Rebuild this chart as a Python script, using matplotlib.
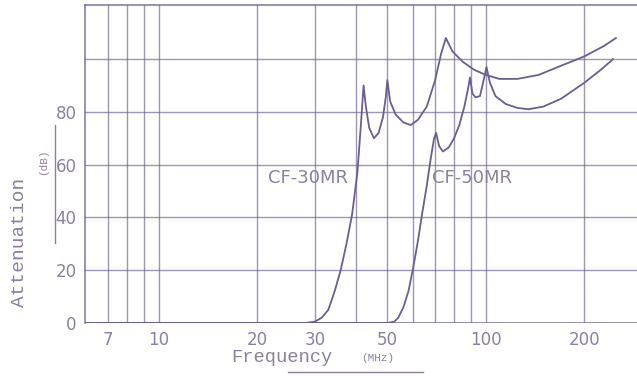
import numpy as np
import matplotlib
matplotlib.use("Agg")
import matplotlib.pyplot as plt

# frequency (MHz) / attenuation (dB)
cf30_freq = [6, 28, 30, 31.5, 33, 34.5, 36, 37.5, 39, 40.5, 41.5, 42.3, 43, 44, 45.5,
             47, 48.5, 49.5, 50, 51, 53, 56, 59, 62, 66, 70, 73, 75.5, 79, 85, 92,
             100, 110, 125, 145, 170, 200, 230, 250]
cf30_db = [0, 0, 0.5, 2, 5, 12, 20, 30, 41, 57, 75, 90, 82, 74, 70,
           72, 78, 86, 92, 84, 79, 76, 75, 77, 82, 92, 102, 108, 103, 99, 96,
           94, 92.5, 92.5, 94, 97.5, 101, 105, 108]

cf50_freq = [6, 50, 52.5, 54, 56, 58, 60, 62, 64, 66, 68, 69.5, 70.5, 72, 74, 77,
             80, 83, 86, 88, 89.5, 91, 93, 96, 98.5, 100.5, 103, 107, 115, 125,
             135, 150, 170, 200, 225, 245]
cf50_db = [0, 0, 0.5, 2, 6, 12, 21, 31, 42, 52, 63, 70, 72, 67, 65, 66.5,
           70, 75, 82, 88, 93, 87, 85.5, 86, 92, 97, 91, 86, 83, 81.5,
           81, 82, 85, 91, 96, 100]

grid_freqs = [7, 8, 9, 10, 20, 30, 40, 50, 60, 70, 80, 90, 100, 200]
grid_db = [20, 40, 60, 80, 100]
xtick_vals = [7, 10, 20, 30, 50, 100, 200]
ytick_vals = [0, 20, 40, 60, 80]

LINE = "#6c5d92"
TEXT = "#8b809e"

fig = plt.figure(figsize=(6.37, 3.76), dpi=100)
ax = fig.add_axes([85 / 637, 1 - 323 / 376, 1 - 85 / 637, (323 - 5) / 376])
ax.set_xscale("log")
ax.set_xlim(5.95, 290)
ax.set_ylim(0, 120.5)

for f in grid_freqs:
    ax.axvline(f, color=LINE, lw=1.0, alpha=0.65, zorder=1)
for d in grid_db:
    ax.axhline(d, color=LINE, lw=1.0, alpha=0.65, zorder=1)
ax.axhline(0, color=LINE, lw=2.0, alpha=0.75, zorder=2)

ax.plot(cf30_freq, cf30_db, color=LINE, lw=1.3, zorder=3)
ax.plot(cf50_freq, cf50_db, color=LINE, lw=1.3, zorder=3)

ax.text(38.0, 55, "CF-30MR", color=TEXT, fontsize=13, ha="right", va="center",
        family="DejaVu Sans")
ax.text(68.5, 55, "CF-50MR", color=TEXT, fontsize=13, ha="left", va="center",
        family="DejaVu Sans")

ax.set_xticks(xtick_vals)
ax.set_xticklabels([str(v) for v in xtick_vals])
ax.xaxis.set_minor_locator(matplotlib.ticker.NullLocator())
ax.set_yticks(ytick_vals)
ax.tick_params(length=0, colors=TEXT, labelsize=12, pad=6)
for lab in ax.get_xticklabels() + ax.get_yticklabels():
    lab.set_color(TEXT)

for side in ["right", "bottom"]:
    ax.spines[side].set_visible(False)
for side in ["left", "top"]:
    ax.spines[side].set_color(LINE)
    ax.spines[side].set_linewidth(1.2)
    ax.spines[side].set_alpha(0.8)

# axis titles, scanned-datasheet style
fig.text(20 / 637, 1 - 242 / 376, "Attenuation", rotation=90, color=TEXT,
         fontsize=14, family="Liberation Mono", ha="center", va="center")
fig.text(43 / 637, 1 - 162 / 376, "(dB)", rotation=90, color=TEXT,
         fontsize=8, family="Liberation Mono", ha="center", va="center")
fig.add_artist(plt.Line2D([55 / 637, 55 / 637], [1 - 125 / 376, 1 - 243 / 376],
                          color=TEXT, lw=1.0))
fig.text(282 / 637, 1 - 358 / 376, "Frequency", color=TEXT, fontsize=13.5,
         family="Liberation Mono", ha="center", va="center")
fig.text(378 / 637, 1 - 358 / 376, "(MHz)", color=TEXT, fontsize=8,
         family="Liberation Mono", ha="center", va="center")
fig.add_artist(plt.Line2D([288 / 637, 423 / 637], [1 - 372 / 376, 1 - 372 / 376],
                          color=TEXT, lw=1.0))

fig.savefig("out.png", dpi=100, facecolor="white")
